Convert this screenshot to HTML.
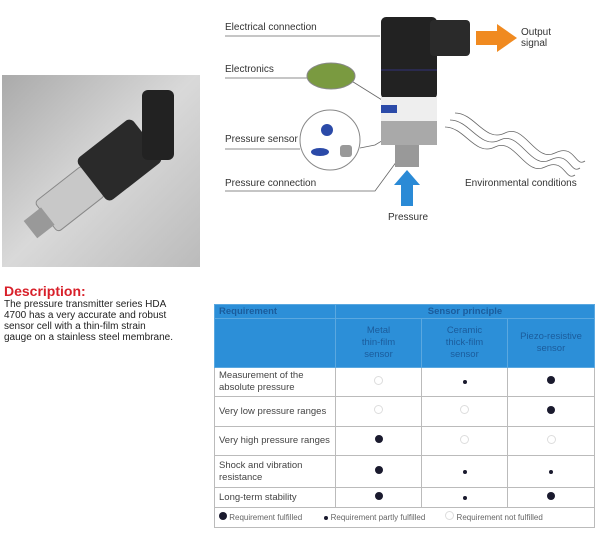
<!DOCTYPE html>
<html><head><style>
body{margin:0;width:600px;height:533px;background:#fff;position:relative;font-family:"Liberation Sans",sans-serif;overflow:hidden}
.a{position:absolute}
.lbl{position:absolute;font-size:10px;color:#333;white-space:nowrap}
table{position:absolute;left:214px;top:304px;width:380px;border-collapse:collapse;font-size:9.5px;color:#444;table-layout:fixed}
td{border:1px solid #bbb;padding:0 4px;line-height:12px}
.h td{background:#2c8fd8;color:#1b5c9c;border-color:#5aa8e0;font-weight:bold;text-align:center}
.c{text-align:center}
.f{display:inline-block;width:8px;height:8px;border-radius:50%;background:#1a1a2e}
.p{display:inline-block;width:4px;height:4px;border-radius:50%;background:#1a1a2e}
.n{display:inline-block;width:7px;height:7px;border-radius:50%;border:1px solid #ddd}
</style></head><body>
<div class="a" style="left:2px;top:75px;width:198px;height:192px;background:linear-gradient(135deg,#aaa,#d9d9d9 50%,#bbb)"></div>
<svg class="a" style="left:2px;top:75px" width="198" height="192">
<g transform="rotate(-38 100 100)">
<rect x="30" y="80" width="60" height="38" rx="4" fill="#c8c8c8" stroke="#888"/>
<rect x="10" y="88" width="22" height="22" fill="#999"/>
<rect x="88" y="72" width="70" height="54" rx="6" fill="#2a2a2a"/>
</g>
<rect x="140" y="15" width="32" height="70" rx="6" fill="#222"/>
</svg>
<div class="a" style="left:4px;top:283px;font-size:14px;font-weight:bold;color:#d8202a">Description:</div>
<div class="a" style="left:4px;top:299px;font-size:10px;line-height:11px;color:#222;width:172px">The pressure transmitter series HDA 4700 has a very accurate and robust sensor cell with a thin-film strain gauge on a stainless steel membrane.</div>

<svg class="a" style="left:0;top:0" width="600" height="240">
<g stroke="#666" stroke-width="0.8" fill="none">
<polyline points="225,36 380,36"/>
<polyline points="225,78 308,78"/>
<polyline points="350,80 390,105"/>
<polyline points="225,149 300,149"/>
<polyline points="360,148 375,145 400,130"/>
<polyline points="225,191 375,191 405,150"/>
<path d="M455,113 c20,0 30,30 50,20 s30,30 50,20 s20,15 30,8"/>
<path d="M450,120 c20,0 30,30 50,20 s30,30 50,20 s20,15 30,8"/>
<path d="M445,127 c20,0 30,30 50,20 s30,30 50,20 s20,15 30,8"/>
</g>
<ellipse cx="331" cy="76" rx="24" ry="13" fill="#7a9a40" stroke="#888"/>
<circle cx="330" cy="140" r="30" fill="#fff" stroke="#888"/>
<circle cx="327" cy="130" r="6" fill="#2b4aa8"/>
<ellipse cx="320" cy="152" rx="9" ry="4" fill="#2b4aa8"/>
<rect x="340" y="145" width="12" height="12" rx="3" fill="#999"/>
<rect x="381" y="17" width="56" height="82" rx="5" fill="#222"/>
<rect x="430" y="20" width="40" height="36" rx="4" fill="#2a2a2a"/>
<line x1="381" y1="70" x2="437" y2="70" stroke="#33337a"/>
<rect x="381" y="97" width="56" height="24" fill="#eee"/>
<rect x="381" y="105" width="16" height="8" fill="#2b4aa8"/>
<rect x="381" y="121" width="56" height="24" fill="#a9a9a9"/>
<rect x="395" y="145" width="24" height="22" fill="#999"/>
<polygon points="407,170 420,185 413,185 413,206 401,206 401,185 394,185" fill="#2a8ad6"/>
<polygon points="476,31 497,31 497,24 517,38 497,52 497,45 476,45" fill="#f08a20"/>
</svg>
<div class="lbl" style="left:225px;top:22px">Electrical connection</div>
<div class="lbl" style="left:225px;top:64px">Electronics</div>
<div class="lbl" style="left:225px;top:134px">Pressure sensor</div>
<div class="lbl" style="left:225px;top:178px">Pressure connection</div>
<div class="lbl" style="left:388px;top:212px">Pressure</div>
<div class="lbl" style="left:521px;top:27px;line-height:11px">Output<br>signal</div>
<div class="lbl" style="left:465px;top:178px">Environmental conditions</div>

<table>
<colgroup><col style="width:121px"><col style="width:86px"><col style="width:86px"><col style="width:87px"></colgroup>
<tr class="h" style="height:14px"><td style="text-align:left">Requirement</td><td colspan="3">Sensor principle</td></tr>
<tr class="h" style="height:49px"><td style="border-top-color:#2c8fd8"></td><td style="font-weight:normal">Metal<br>thin-film<br>sensor</td><td style="font-weight:normal">Ceramic<br>thick-film<br>sensor</td><td style="font-weight:normal">Piezo-resistive<br>sensor</td></tr>
<tr style="height:29px"><td>Measurement of the absolute pressure</td><td class="c"><span class="n"></span></td><td class="c"><span class="p"></span></td><td class="c"><span class="f"></span></td></tr>
<tr style="height:30px"><td>Very low pressure ranges</td><td class="c"><span class="n"></span></td><td class="c"><span class="n"></span></td><td class="c"><span class="f"></span></td></tr>
<tr style="height:29px"><td>Very high pressure ranges</td><td class="c"><span class="f"></span></td><td class="c"><span class="n"></span></td><td class="c"><span class="n"></span></td></tr>
<tr style="height:32px"><td>Shock and vibration resistance</td><td class="c"><span class="f"></span></td><td class="c"><span class="p"></span></td><td class="c"><span class="p"></span></td></tr>
<tr style="height:20px"><td>Long-term stability</td><td class="c"><span class="f"></span></td><td class="c"><span class="p"></span></td><td class="c"><span class="f"></span></td></tr>
<tr style="height:20px"><td colspan="4" style="font-size:8px;color:#666"><span class="f"></span> Requirement fulfilled &nbsp;&nbsp;&nbsp;&nbsp;&nbsp;&nbsp;&nbsp;&nbsp; <span class="p"></span> Requirement partly fulfilled &nbsp;&nbsp;&nbsp;&nbsp;&nbsp;&nbsp;&nbsp; <span class="n"></span> Requirement not fulfilled</td></tr>
</table>
</body></html>
